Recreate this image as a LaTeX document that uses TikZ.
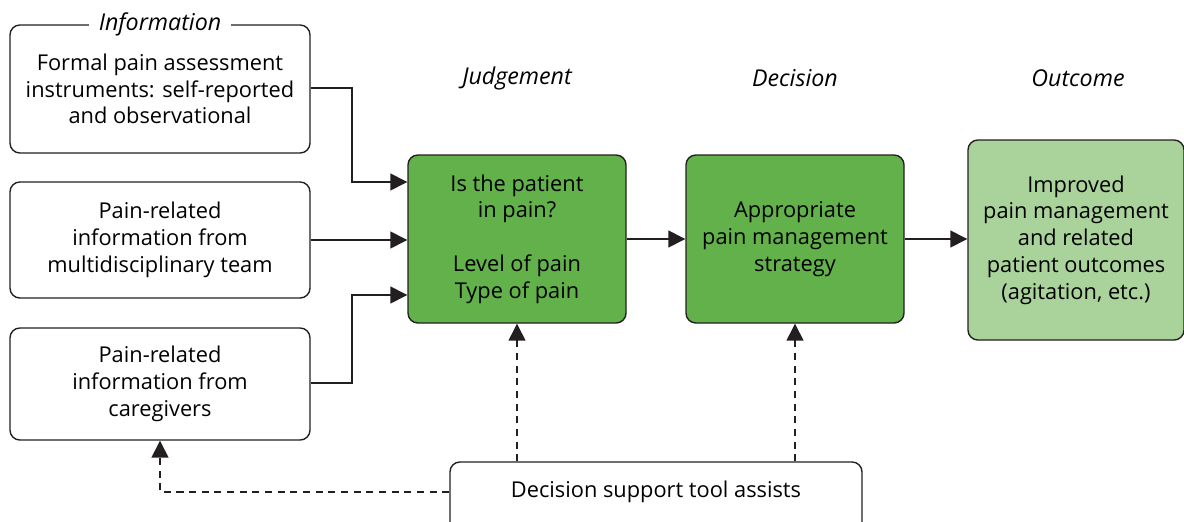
\documentclass[tikz,border=0pt]{standalone}
\usepackage{fontspec}
\setmainfont{Open Sans}
\usetikzlibrary{arrows.meta}

\definecolor{darkgreen}{HTML}{62B14A}
\definecolor{lightgreen}{HTML}{AAD39B}
\definecolor{inkline}{HTML}{231F20}

\begin{document}
\begin{tikzpicture}[x=0.025cm, y=-0.025cm,
    box/.style={draw=inkline, line width=1pt, rounded corners=7pt, align=center,
        font=\fontsize{15.5}{19}\selectfont, inner sep=0pt},
    infobox/.style={box, minimum width=300*0.025cm},
    greenbox/.style={box, fill=darkgreen, minimum width=218*0.025cm, minimum height=168*0.025cm},
    heading/.style={font=\fontsize{16.5}{18}\selectfont\itshape},
    arr/.style={draw=inkline, line width=1pt, -{Triangle[length=12pt, width=12pt]}},
    dasharr/.style={arr, dash pattern=on 5pt off 4pt}]
    \useasboundingbox (0,0) rectangle (1184,521);

    % information boxes
    \node[infobox, minimum height=128*0.025cm] (formal) at (160, 89) {Formal pain assessment\\instruments: self-reported\\and observational};
    \node[fill=white, heading, inner xsep=7pt] (info) at (160, 24) {Information};
    \node[infobox, minimum height=116*0.025cm] (team) at (160, 240) {Pain-related\\information from\\multidisciplinary team};
    \node[infobox, minimum height=112*0.025cm] (carers) at (160, 384) {Pain-related\\information from\\caregivers};

    % judgement, decision, outcome
    \node[heading] (judgelbl) at (517, 78) {Judgement};
    \node[heading] (declbl) at (795, 78) {Decision};
    \node[heading] (outlbl) at (1078, 78) {Outcome};
    \node[greenbox] (judge) at (517, 239) {Is the patient\\in pain?\\[19pt]Level of pain\\Type of pain};
    \node[greenbox] (decide) at (795, 239) {Appropriate\\pain management\\strategy};
    \node[box, fill=lightgreen, minimum width=216*0.025cm, minimum height=200*0.025cm] (outcome) at (1076, 240) {Improved\\pain management\\and related\\patient outcomes\\(agitation, etc.)};

    % support tool
    \node[box, minimum width=412*0.025cm, minimum height=70*0.025cm] (tool) at (656, 497) {};
    \node[font=\fontsize{15.5}{18}\selectfont] (tooltxt) at (656, 492) {Decision support tool assists};

    % solid connectors
    \draw[arr] (formal.east |- 0,88) -- (352,88) |- (judge.west |- 0,182);
    \draw[arr] (team.east) -- (judge.west |- team.east);
    \draw[arr] (carers.east |- 0,383) -- (352,383) |- (judge.west |- 0,295);
    \draw[arr] (judge) -- (decide);
    \draw[arr] (decide) -- (outcome.west |- decide);

    % dashed connectors
    \draw[dasharr] (tool.north -| judge.south) -- (judge.south);
    \draw[dasharr] (tool.north -| decide.south) -- (decide.south);
    \draw[dasharr] (tool.west |- tooltxt) -| (carers.south);
\end{tikzpicture}
\end{document}
